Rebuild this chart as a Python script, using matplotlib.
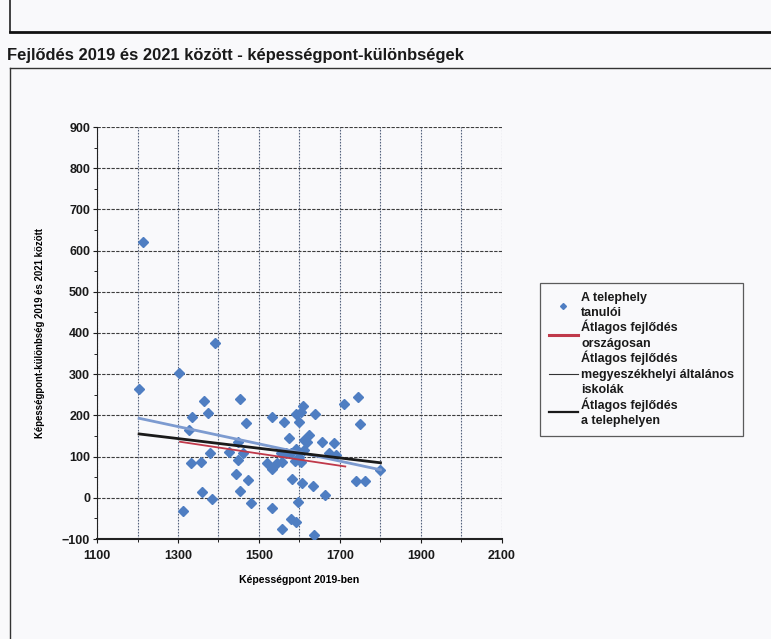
import matplotlib
matplotlib.use("Agg")
import matplotlib.pyplot as plt
from matplotlib.lines import Line2D
from matplotlib.ticker import MultipleLocator, FixedLocator

plt.rcParams['font.family'] = ['Liberation Sans', 'DejaVu Sans']

# ---- data ----
x_2019 = [1214, 1392, 1302, 1204, 1363, 1452, 1375, 1334, 1467, 1531, 1562, 1609,
          1591, 1603, 1600, 1638, 1711, 1745, 1749, 1326, 1574, 1612, 1618, 1656,
          1685, 1623, 1591, 1672, 1449, 1378, 1426, 1461, 1332, 1357, 1448, 1520,
          1531, 1545, 1558, 1554, 1567, 1578, 1588, 1603, 1444, 1472, 1581, 1605,
          1634, 1740, 1761, 1800, 1360, 1452, 1384, 1480, 1662, 1596, 1532, 1312,
          1578, 1591, 1556, 1635, 1690, 1610, 1598]
y_diff = [620, 376, 302, 263, 235, 241, 206, 195, 181, 195, 183, 223,
          203, 209, 183, 203, 227, 245, 180, 165, 144, 140, 136, 136,
          134, 152, 119, 108, 136, 108, 110, 108, 85, 88, 92, 85,
          69, 85, 88, 108, 108, 108, 90, 88, 58, 42, 45, 37,
          29, 41, 40, 68, 13, 17, -3, -13, 6, -10, -25, -33,
          -52, -58, -76, -90, 105, 115, 100]

orsz_x = [1305, 1713]
orsz_y = [136, 76]
megye_x = [1204, 1800]
megye_y = [193, 68]
telep_x = [1204, 1800]
telep_y = [155, 85]

x_ticks = [1100, 1300, 1500, 1700, 1900, 2100]
y_ticks = [-100, 0, 100, 200, 300, 400, 500, 600, 700, 800, 900]

labels = ["A telephely\ntanulói",
          "Átlagos fejlődés\nországosan",
          "Átlagos fejlődés\nmegyeszékhelyi általános\niskolák",
          "Átlagos fejlődés\na telephelyen"]

title = "Fejlődés 2019 és 2021 között - képességpont-különbségek"
xlabel = "Képességpont 2019-ben"
ylabel = "Képességpont-különbség 2019 és 2021 között"

# ---- figure ----
fig = plt.figure(figsize=(7.71, 6.39), dpi=100, facecolor='#f9f9fb')
W, H = 771, 639

def fx(px):
    return px / W

def fy(py):
    return 1 - py / H

# decorative frame lines of the scanned page
fig.add_artist(Line2D([fx(10), fx(10)], [fy(0), fy(32)], color='#222222', lw=1.2))
fig.add_artist(Line2D([fx(10), 1.0], [fy(32), fy(32)], color='#111111', lw=2.0))
fig.add_artist(Line2D([fx(10), 1.0], [fy(68), fy(68)], color='#333333', lw=1.0))
fig.add_artist(Line2D([fx(10), fx(10)], [fy(68), 0.0], color='#333333', lw=1.0))

fig.text(fx(7), fy(60), title, fontsize=11.85, fontweight='bold', color='#1a1a1a',
         ha='left', va='baseline')

ax = fig.add_axes([fx(97), fy(539), fx(502) - fx(97), fy(127) - fy(539)])
ax.set_facecolor('none')
ax.set_xlim(x_ticks[0], x_ticks[-1])
ax.set_ylim(y_ticks[0], y_ticks[-1])
ax.xaxis.set_major_locator(FixedLocator(x_ticks))
ax.xaxis.set_minor_locator(MultipleLocator(100))
ax.yaxis.set_major_locator(FixedLocator(y_ticks))
ax.yaxis.set_minor_locator(MultipleLocator(50))

ax.grid(True, which='major', axis='y', color='#3d3d3d', ls=(0, (3, 1.2)), lw=0.8)
ax.grid(True, which='both', axis='x', color='#56647e', ls=(0, (1.5, 1.2)), lw=0.8)

for s in ['top', 'right']:
    ax.spines[s].set_visible(False)
ax.spines['left'].set_color('#222222')
ax.spines['bottom'].set_color('#222222')
ax.spines['bottom'].set_linewidth(1.5)
ax.tick_params(axis='both', which='major', length=3, labelsize=9, colors='#1a1a1a', pad=2)
ax.tick_params(axis='x', which='major', pad=5)
ax.tick_params(axis='both', which='minor', length=2)
for lab in ax.get_xticklabels() + ax.get_yticklabels():
    lab.set_fontweight('bold')

ax.plot(x_2019, y_diff, ls='none', marker='D', ms=4.8, color='#4f7ec2', zorder=3)
ax.plot(megye_x, megye_y, color='#7d9bd0', lw=2.0, zorder=4)
ax.plot(orsz_x, orsz_y, color='#c0394a', lw=1.3, zorder=4)
ax.plot(telep_x, telep_y, color='#1a1a1a', lw=2.0, zorder=5)

ax.set_xlabel(xlabel, fontsize=7.6, fontweight='bold', labelpad=9)
ax.set_ylabel(ylabel, fontsize=6.9, fontweight='bold', labelpad=12)

handles = [Line2D([], [], ls='none', marker='D', ms=3, color='#4f7ec2'),
           Line2D([], [], color='#c0394a', lw=2.2),
           Line2D([], [], color='#333333', lw=0.8),
           Line2D([], [], color='#1a1a1a', lw=1.6)]
leg = fig.legend(handles, labels, loc='upper left',
                 bbox_to_anchor=(fx(540), fy(283)), frameon=True, fancybox=False,
                 fontsize=9, handlelength=2.3, borderpad=0.7, labelspacing=0.05,
                 handletextpad=0.3, borderaxespad=0.0,
                 edgecolor='#333333', facecolor='#f9f9fb')
leg.get_frame().set_linewidth(0.9)
for t in leg.get_texts():
    t.set_fontweight('bold')
    t.set_color('#1a1a1a')
    t.set_linespacing(1.4)

fig.savefig('out.png', dpi=100, facecolor=fig.get_facecolor())
